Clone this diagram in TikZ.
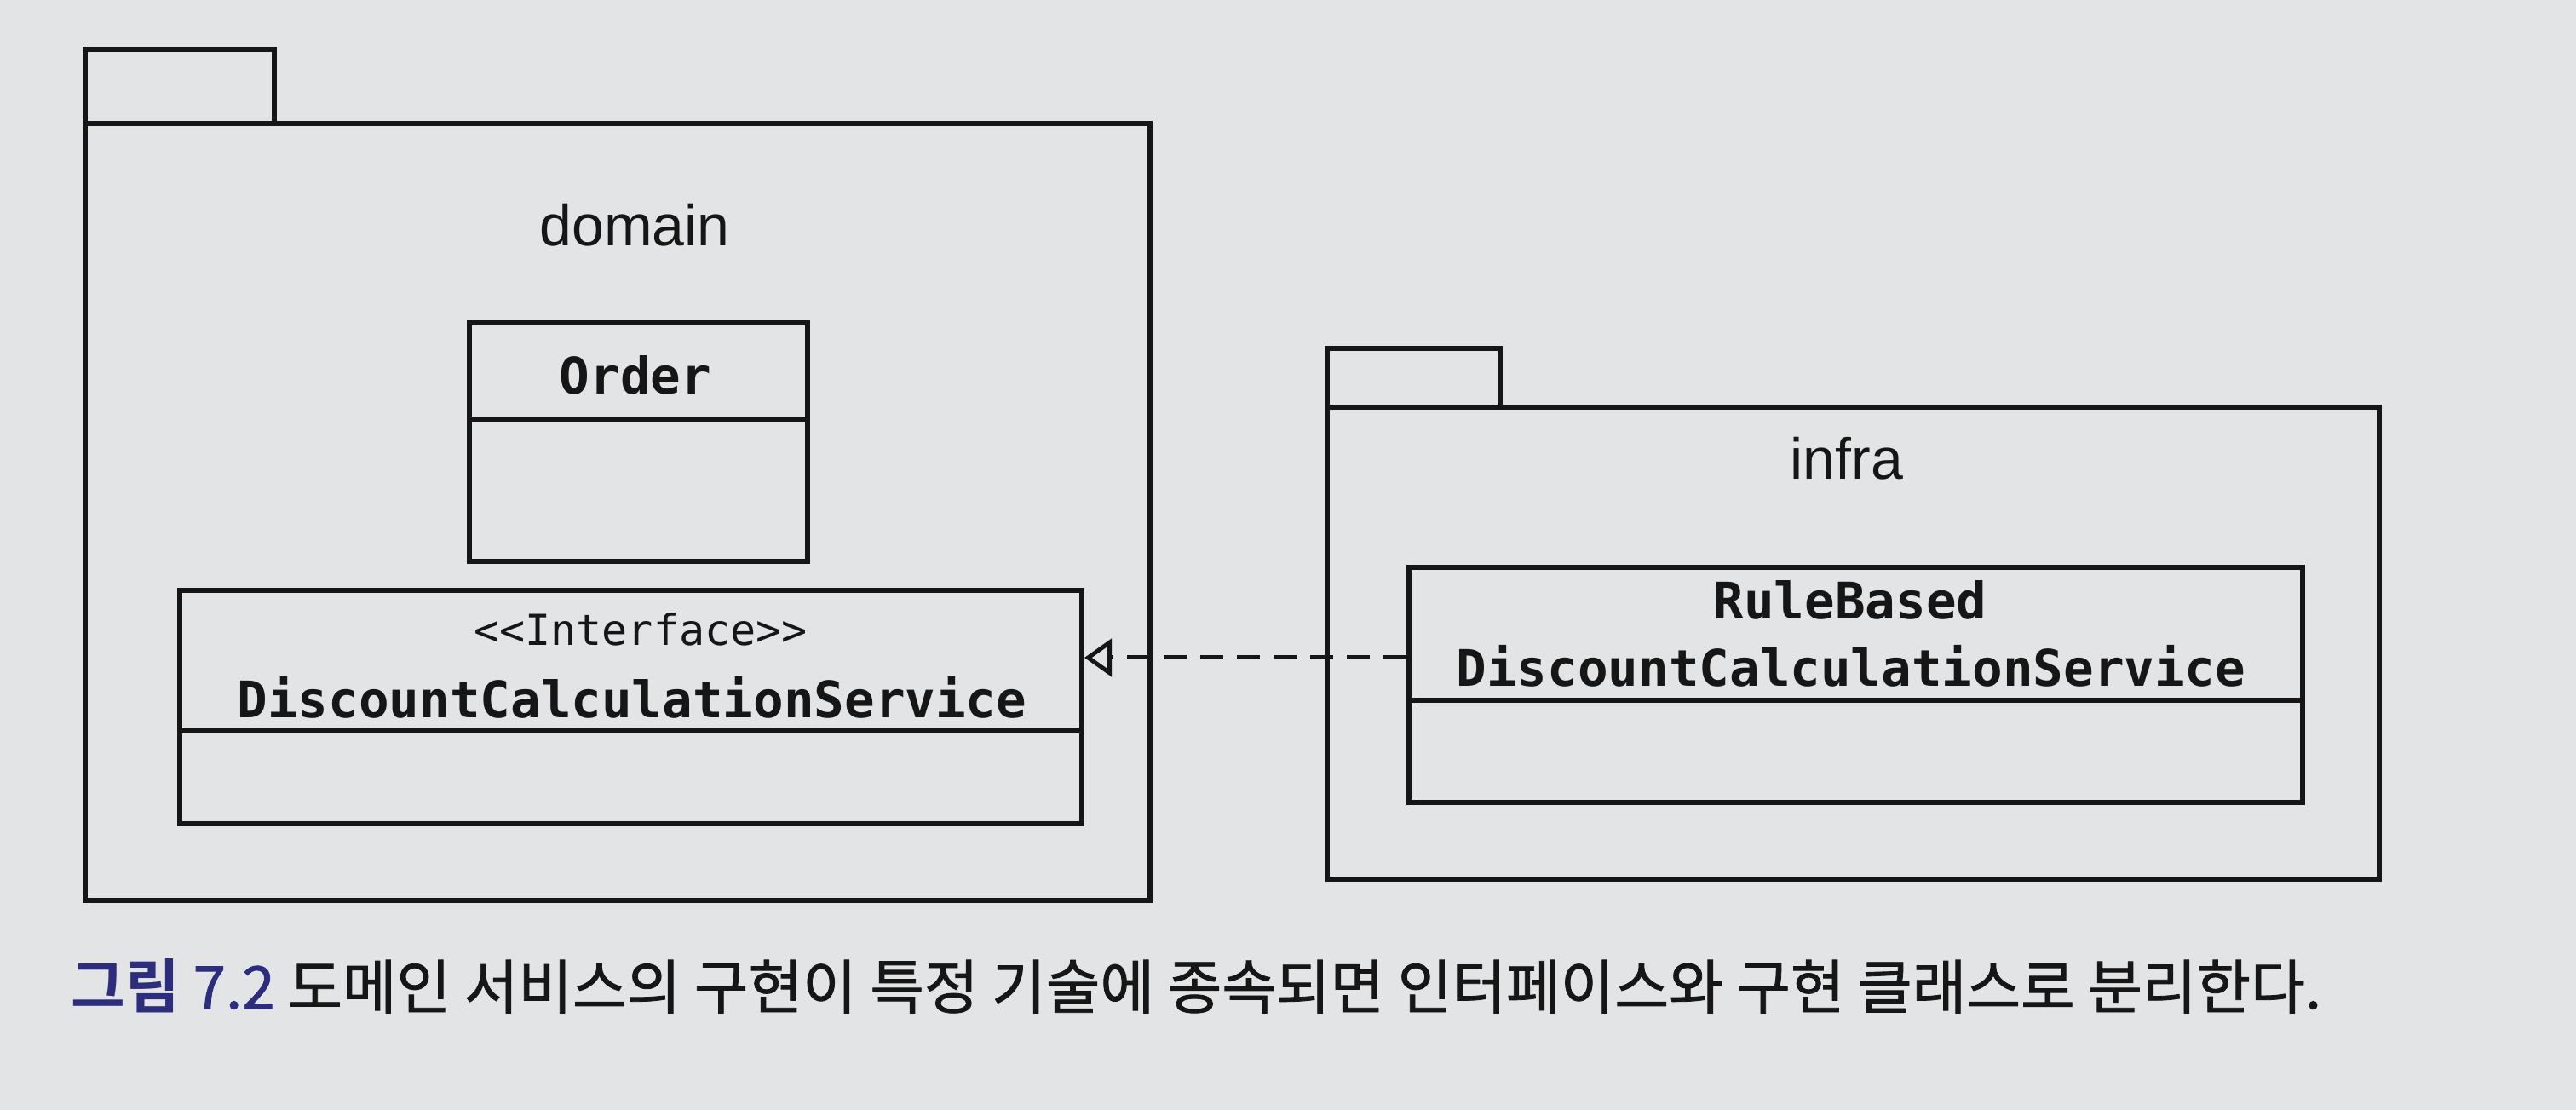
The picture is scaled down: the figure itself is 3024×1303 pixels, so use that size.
\documentclass[tikz,border=0pt]{standalone}
\usepackage{fontspec}
\setmainfont{Liberation Sans}
\newfontfamily\monofont{DejaVu Sans Mono}
\newfontfamily\krfont[FakeBold=1.2]{Noto Sans CJK KR}
\newfontfamily\krbold{Noto Sans CJK KR Bold}
\usetikzlibrary{arrows.meta}
\definecolor{paper}{RGB}{226,228,229}
\definecolor{navy}{RGB}{45,45,125}
\definecolor{ink}{RGB}{22,22,22}
\tikzset{
  pkgline/.style={draw=ink, line width=1.5pt, line join=miter},
  classbox/.style={draw=ink, line width=1.5pt, inner sep=0pt, anchor=north west},
  pkglabel/.style={font=\fontsize{17pt}{20pt}\selectfont, text=ink, anchor=base, inner sep=0pt},
  classname/.style={font=\monofont\bfseries\fontsize{14.8pt}{17pt}\selectfont, text=ink, anchor=base, inner sep=0pt},
  stereo/.style={font=\monofont\fontsize{12.5pt}{15pt}\selectfont, text=ink, anchor=base, inner sep=0pt},
  realize/.style={draw=ink, line width=1.25pt, dash pattern=on 6.75pt off 4pt,
    -{Triangle[open, length=8pt, width=11pt, line width=1.25pt]}},
}
\begin{document}
\begin{tikzpicture}[x=0.25pt, y=-0.25pt]
\fill[paper] (0,0) rectangle (3024,1303);
\useasboundingbox (0,0) rectangle (3024,1303);

% domain package
\draw[pkgline] (100,145) rectangle (322,58);
\draw[pkgline] (100,145) rectangle (1350,1057);
\node[pkglabel] (domainlbl) at (745,289) {domain};

% Order class
\node[classbox, minimum width=99.25pt, minimum height=70pt] (order) at (548,376) {};
\draw[pkgline] (order.west |- 0,492) -- (order.east |- 0,492);
\node[classname] (ordername) at (746,463) {Order};

% Interface class
\node[classbox, minimum width=264.75pt, minimum height=68.5pt] (iface) at (208,690) {};
\draw[pkgline] (iface.west |- 0,858) -- (iface.east |- 0,858);
\node[stereo] (ifacestereo) at (752,758) {<{}<Interface>{}>};
\node[classname] (ifacename) at (742,843) {DiscountCalculationService};

% infra package
\draw[pkgline] (1558,478) rectangle (1761,409);
\draw[pkgline] (1558,478) rectangle (2793,1032);
\node[pkglabel] (infralbl) at (2168,563) {infra};

% RuleBased class
\node[classbox, minimum width=262.25pt, minimum height=69pt] (rb) at (1651,663) {};
\draw[pkgline] (rb.west |- 0,822) -- (rb.east |- 0,822);
\node[classname] (rbname1) at (2172,727) {RuleBased};
\node[classname] (rbname2) at (2173,806) {DiscountCalculationService};

% realization
\coordinate (arrowy) at (0,772);
\draw[realize] (rb.west |- arrowy) -- (iface.east |- arrowy);

% caption
\node[font=\krfont\fontsize{17.3pt}{20pt}\selectfont, text=ink, anchor=base west, inner sep=0pt] (caption) at (83,1184)
  {{\color{navy}{\krbold 그림} 7.2} 도메인 서비스의 구현이 특정 기술에 종속되면 인터페이스와 구현 클래스로 분리한다.};
\end{tikzpicture}
\end{document}
